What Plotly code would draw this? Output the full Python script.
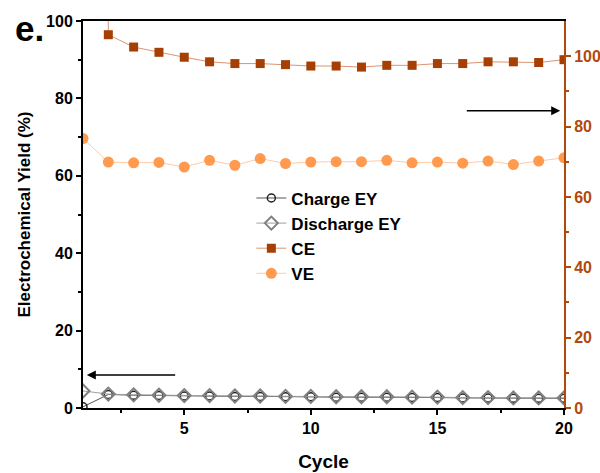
import plotly.graph_objects as go

cycles = list(range(1, 21))
charge_ey = [0.3, 3.5, 3.3, 3.2, 3.1, 3.1, 3.0, 3.0, 2.9, 2.9, 2.8, 2.8, 2.8, 2.7, 2.7, 2.6, 2.6, 2.5, 2.5, 2.5]
discharge_ey = [4.4, 3.6, 3.4, 3.3, 3.2, 3.2, 3.1, 3.1, 3.0, 3.0, 2.9, 2.9, 2.9, 2.8, 2.8, 2.7, 2.7, 2.6, 2.6, 2.6]
ce = [1500, 106.1, 102.6, 101.1, 99.7, 98.4, 97.9, 97.9, 97.6, 97.2, 97.2, 96.9, 97.4, 97.4, 97.9, 97.9, 98.4, 98.4, 98.2, 99.0]
ve = [76.6, 69.9, 69.7, 69.8, 68.5, 70.4, 69.0, 70.9, 69.5, 69.9, 70.0, 70.0, 70.4, 69.7, 69.9, 69.6, 70.2, 69.2, 70.2, 71.1]

FONT = "Liberation Sans, Arial, sans-serif"
BROWN = "#B04A0C"
CE_COL = "#A63F03"
VE_COL = "#FF9A4E"

fig = go.Figure()
fig.add_trace(go.Scatter(x=cycles, y=charge_ey, name="Charge EY", mode="lines+markers",
                         line=dict(color="#555555", width=1),
                         marker=dict(symbol="circle-open", size=8, color="#222222", line=dict(width=1.5))))
fig.add_trace(go.Scatter(x=cycles, y=discharge_ey, name="Discharge EY", mode="lines+markers",
                         line=dict(color="#A0A0A0", width=1),
                         marker=dict(symbol="diamond-open", size=10, color="#808080", line=dict(width=2))))
fig.add_trace(go.Scatter(x=cycles, y=ce, name="CE", mode="lines+markers", yaxis="y2",
                         line=dict(color="#DC9470", width=1),
                         marker=dict(symbol="square", size=9, color=CE_COL)))
fig.add_trace(go.Scatter(x=cycles, y=ve, name="VE", mode="lines+markers", yaxis="y2",
                         line=dict(color="#FFCBA8", width=1),
                         marker=dict(symbol="circle", size=11, color=VE_COL)))

fig.update_layout(
    width=600, height=473,
    margin=dict(l=83, r=36, t=21, b=65),
    paper_bgcolor="white", plot_bgcolor="white",
    font=dict(family=FONT, size=14, color="black"),
    showlegend=True,
    legend=dict(x=0.35, y=0.588, xanchor="left", yanchor="top", bgcolor="rgba(0,0,0,0)",
                font=dict(family=FONT, size=17, weight="bold"), tracegroupgap=0, itemwidth=30),
    xaxis=dict(range=[1, 20], tickvals=[5, 10, 15, 20], showgrid=False, zeroline=False, automargin=False,
               showline=True, linecolor="black", linewidth=2, mirror=True,
               ticks="outside", ticklen=5, tickwidth=2, tickcolor="black",
               minor=dict(tickvals=[2.5, 7.5, 12.5, 17.5], ticks="outside", ticklen=3, tickwidth=2, tickcolor="black"),
               tickfont=dict(family=FONT, size=16, weight="bold"),
               title=dict(text="Cycle", font=dict(family=FONT, size=19, weight="bold"), standoff=18)),
    yaxis=dict(range=[0, 100], tickvals=[0, 20, 40, 60, 80, 100], showgrid=False, zeroline=False, automargin=False,
               showline=True, linecolor="black", linewidth=2,
               ticks="outside", ticklen=5, tickwidth=2, tickcolor="black",
               minor=dict(tickvals=[10, 30, 50, 70, 90], ticks="outside", ticklen=3, tickwidth=2, tickcolor="black"),
               tickfont=dict(family=FONT, size=16, weight="bold"),
               title=dict(text="Electrochemical Yield (%)", font=dict(family=FONT, size=17, weight="bold"), standoff=11)),
    yaxis2=dict(range=[0, 110], overlaying="y", side="right", tickvals=[0, 20, 40, 60, 80, 100], automargin=False,
                showgrid=False, zeroline=False, showline=True, linecolor=BROWN, linewidth=2,
                ticks="outside", ticklen=5, tickwidth=2, tickcolor=BROWN,
                minor=dict(tickvals=[10, 30, 50, 70, 90], ticks="outside", ticklen=3, tickwidth=2, tickcolor=BROWN),
                tickfont=dict(family=FONT, size=16, weight="bold", color=BROWN)),
)

fig.add_annotation(x=1.15, y=8.5, ax=4.7, ay=8.5, xref="x", yref="y", axref="x", ayref="y",
                   text="", showarrow=True, arrowhead=2, arrowsize=1.2, arrowwidth=1.5, arrowcolor="black")
fig.add_annotation(x=19.85, y=84.5, ax=16.1, ay=84.5, xref="x", yref="y2", axref="x", ayref="y2",
                   text="", showarrow=True, arrowhead=2, arrowsize=1.2, arrowwidth=1.5, arrowcolor="black")
fig.add_annotation(x=-0.145, y=1.035, xref="paper", yref="paper", xanchor="left", yanchor="top",
                   text="e.", showarrow=False, font=dict(family=FONT, size=35, weight="bold"))

fig.write_html("out.html")
